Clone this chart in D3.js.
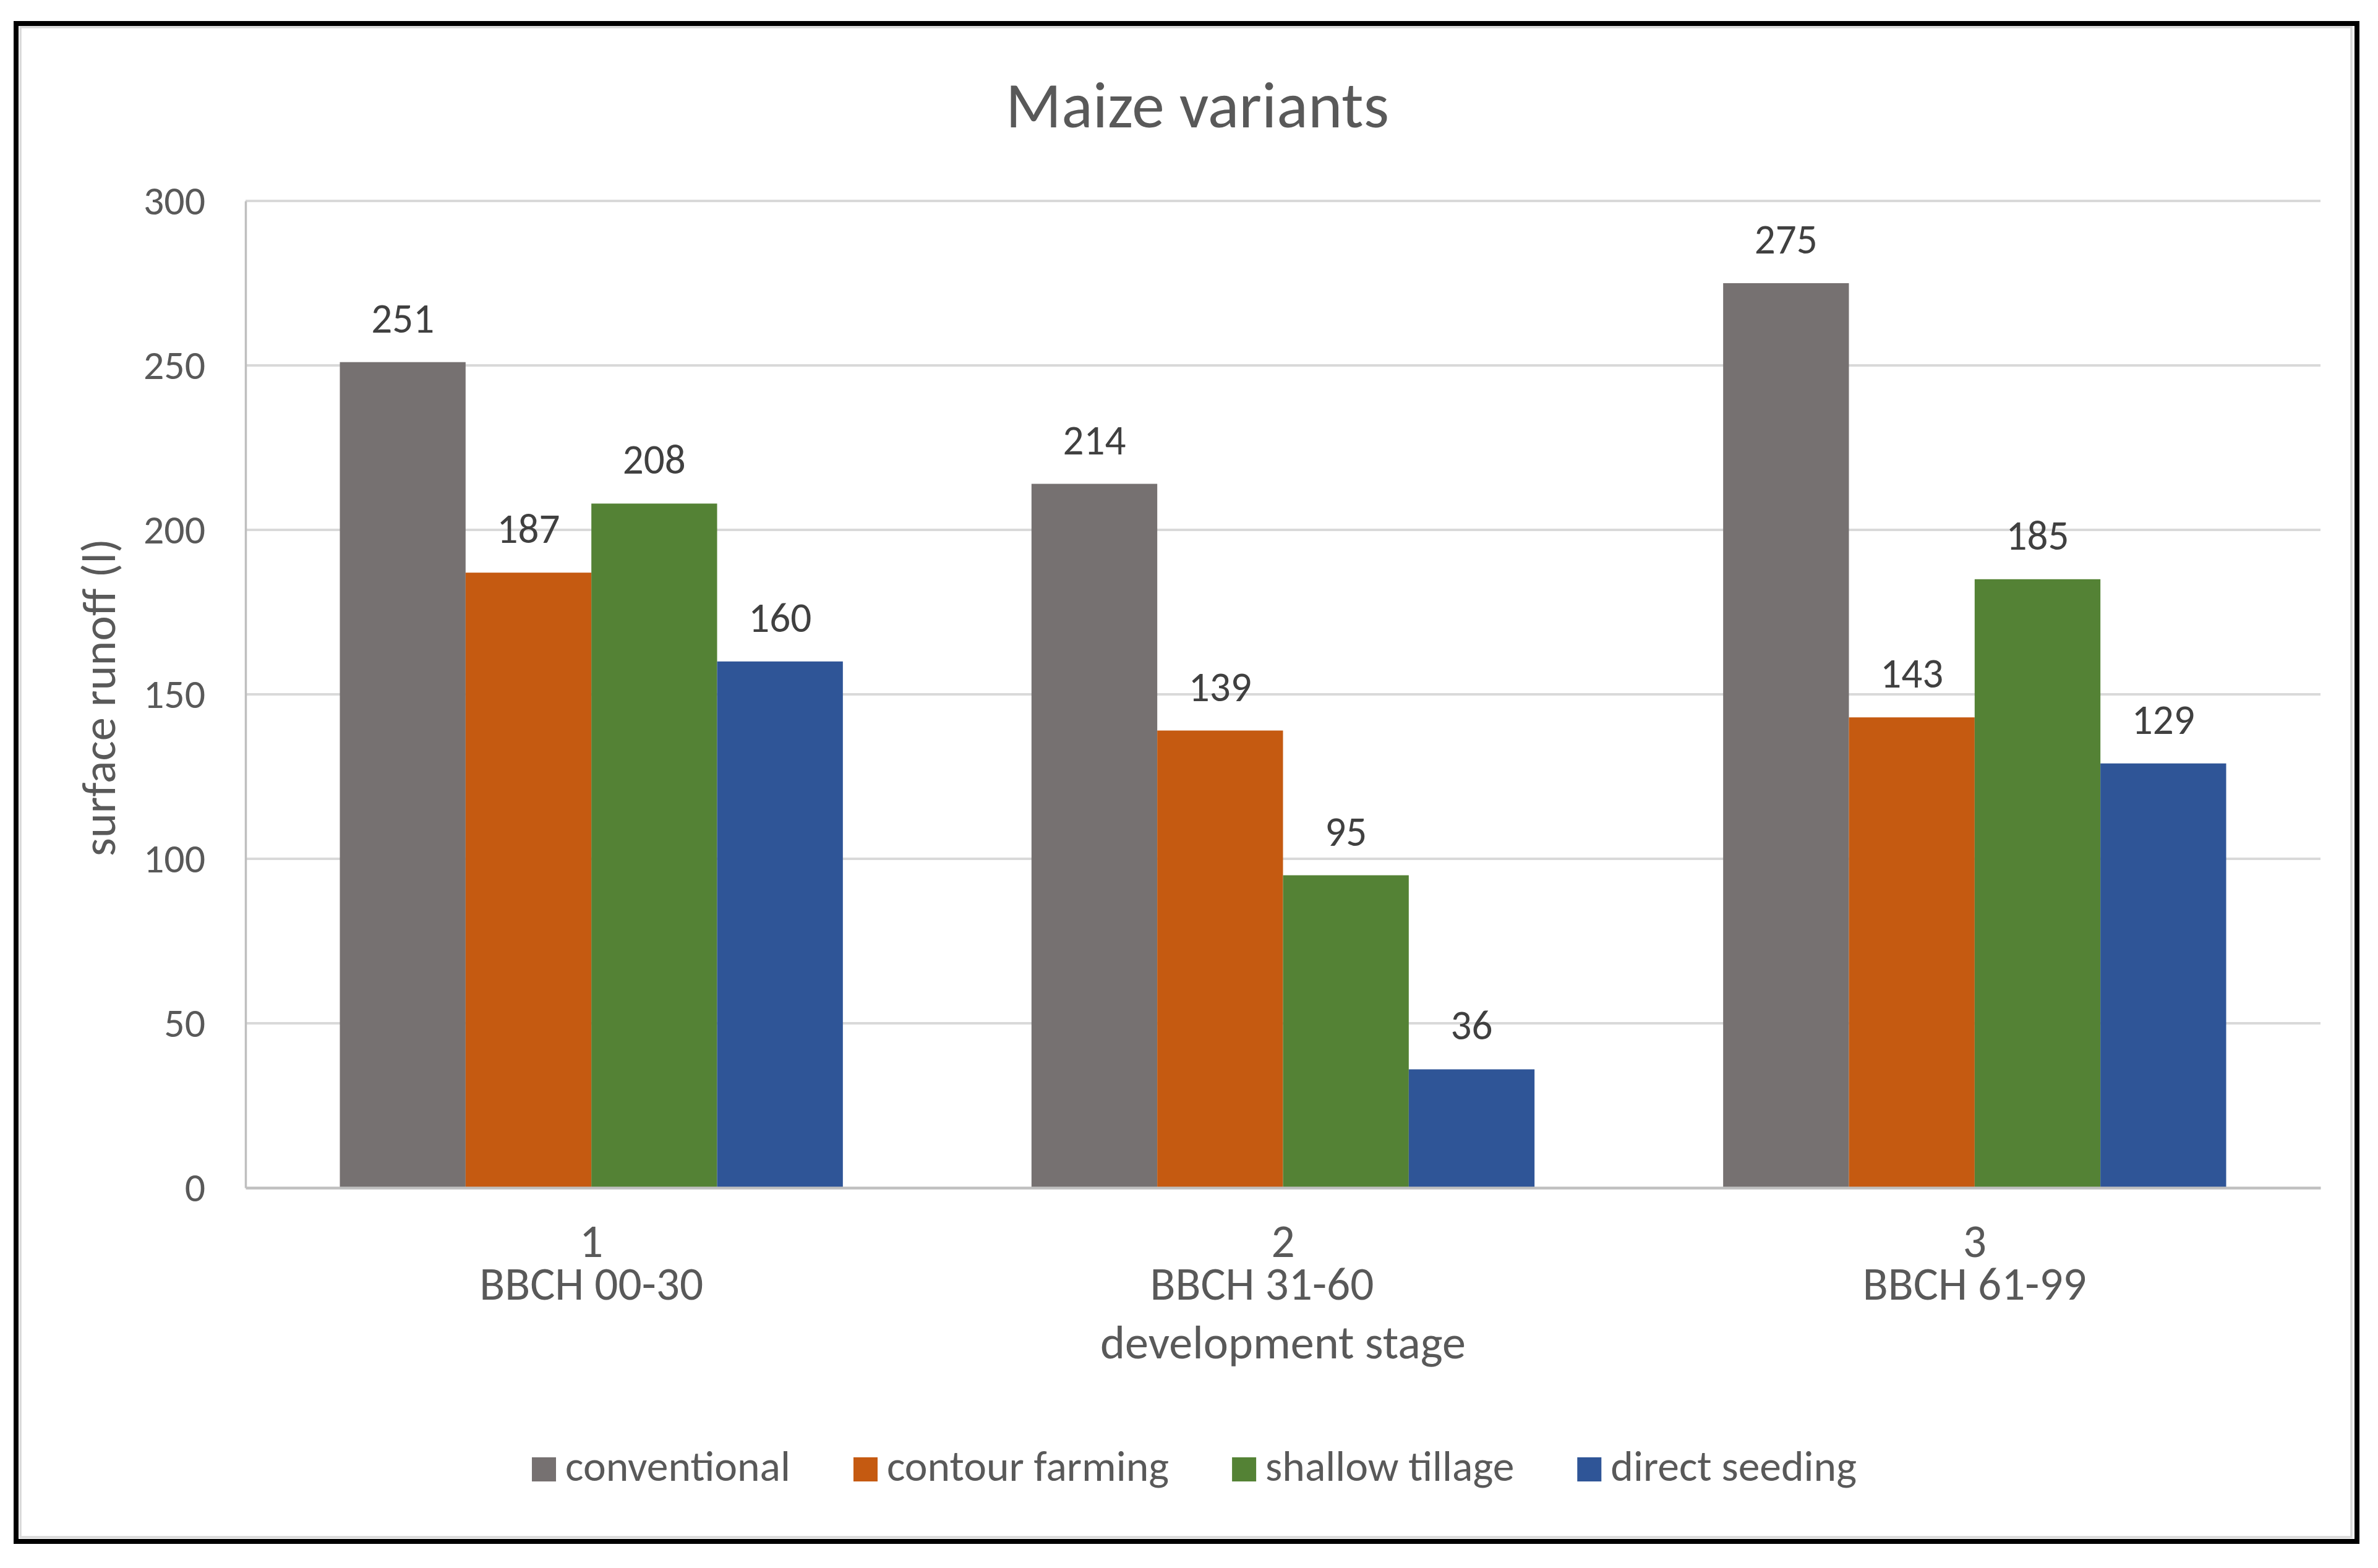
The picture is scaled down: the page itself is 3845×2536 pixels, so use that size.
<!DOCTYPE html>
<html>
<head>
<meta charset="utf-8">
<script src="https://cdn.jsdelivr.net/npm/d3@7/dist/d3.min.js"></script>
<style>
  html, body { margin: 0; padding: 0; background: #ffffff; }
  svg { display: block; }
  text { font-family: Carlito, Calibri, Lato, "Liberation Sans", sans-serif; white-space: pre; }
</style>
</head>
<body>
<svg id="chart" width="3845" height="2536"></svg>
<script>
// ---- data ----
const chartTitle = "Maize variants";
const categories = ["1", "2", "3"];
const categorySubLabels = ["BBCH 00-30", "BBCH 31-60    ", "BBCH 61-99"];
const seriesNames = ["conventional", "contour farming", "shallow tillage", "direct seeding"];
const conventional   = [251, 214, 275];
const contourFarming = [187, 139, 143];
const shallowTillage = [208, 95, 185];
const directSeeding  = [160, 36, 129];
const yTicks = [0, 50, 100, 150, 200, 250, 300];
const yTitle = "surface runoff (l)";
const xTitle = "development stage";
const seriesColors = ["#767171", "#C55A11", "#548235", "#2F5597"];

const seriesValues = [conventional, contourFarming, shallowTillage, directSeeding];

// ---- layout ----
const W = 3845, H = 2536;
const plot = { left: 397, right: 3752, top: 325, bottom: 1921 };
const svg = d3.select("#chart");
svg.append("rect").attr("width", W).attr("height", H).attr("fill", "#fff");

// font fitting helper: find font size such that refText has target width
function fitSize(refText, targetWidth) {
  const t = svg.append("text").attr("font-size", 100).text(refText);
  const w = t.node().getComputedTextLength();
  t.remove();
  return 100 * targetWidth / w;
}
const fsTitle = fitSize("Maize variants", 620);
const fsAxisTitle = fitSize("development stage", 591);
const fsCat = fitSize("BBCH 00-30", 362);
const fsLegend = fitSize("conventional", 364);
const fsTick = fitSize("200", 100);
const fsData = fitSize("214", 102);

// chart borders
svg.append("rect").attr("x", 26).attr("y", 38).attr("width", 3811 - 26).attr("height", 2493 - 38)
  .attr("fill", "none").attr("stroke", "#000").attr("stroke-width", 8);
svg.append("rect").attr("x", 33).attr("y", 44).attr("width", 3802 - 33).attr("height", 2486 - 44)
  .attr("fill", "none").attr("stroke", "#D9D9D9").attr("stroke-width", 3.5);

// scales
const y = d3.scaleLinear().domain([0, 300]).range([plot.bottom, plot.top]);
const x0 = d3.scaleBand().domain(categories).range([plot.left, plot.right]).padding(0);
const x1 = d3.scaleBand().domain(seriesNames).range([0, x0.bandwidth()]).paddingInner(0).paddingOuter(0.75);

// gridlines
svg.append("g").selectAll("line").data(yTicks.filter(d => d > 0)).join("line")
  .attr("x1", plot.left).attr("x2", plot.right)
  .attr("y1", d => y(d)).attr("y2", d => y(d))
  .attr("stroke", "#D9D9D9").attr("stroke-width", 4);

// y axis (labels + line)
const yAxis = d3.axisLeft(y).tickValues(yTicks).tickSize(0).tickPadding(0);
const gy = svg.append("g").attr("transform", `translate(${plot.left},0)`).call(yAxis);
gy.select(".domain").attr("stroke", "#BFBFBF").attr("stroke-width", 3.5);
gy.selectAll(".tick text")
  .attr("x", 332 - plot.left).attr("dy", "0.33em")
  .attr("font-size", fsTick).attr("fill", "#595959")
  .attr("font-family", null);

// bars
const groups = svg.append("g").selectAll("g").data(categories).join("g")
  .attr("transform", d => `translate(${x0(d)},0)`);
groups.selectAll("rect").data((c, ci) => seriesNames.map((s, si) => ({ s, si, v: seriesValues[si][ci] })))
  .join("rect")
  .attr("x", d => x1(d.s)).attr("width", x1.bandwidth())
  .attr("y", d => y(d.v)).attr("height", d => y(0) - y(d.v))
  .attr("fill", d => seriesColors[d.si]);
groups.selectAll("text.dl").data((c, ci) => seriesNames.map((s, si) => ({ s, si, v: seriesValues[si][ci] })))
  .join("text").attr("class", "dl")
  .attr("x", d => x1(d.s) + x1.bandwidth() / 2)
  .attr("y", d => y(d.v) - 48)
  .attr("text-anchor", "middle").attr("font-size", fsData).attr("fill", "#404040")
  .text(d => d.v);

// x axis line
const xAxis = d3.axisBottom(x0).tickSize(0).tickFormat("");
const gx = svg.append("g").attr("transform", `translate(0,${plot.bottom})`).call(xAxis);
gx.select(".domain").attr("stroke", "#BFBFBF").attr("stroke-width", 4.5);

// category labels (two lines in one text element)
const catG = svg.append("g");
const catText = catG.selectAll("text.cat").data(categories).join("text").attr("class", "cat")
  .attr("text-anchor", "middle").attr("font-size", fsCat).attr("fill", "#595959");
catText.append("tspan")
  .attr("x", d => x0(d) + x0.bandwidth() / 2).attr("y", 2033)
  .text(d => d);
catText.append("tspan")
  .attr("x", d => x0(d) + x0.bandwidth() / 2).attr("y", 2102)
  .text((d, i) => categorySubLabels[i]);

// axis titles
svg.append("text").attr("x", (plot.left + plot.right) / 2).attr("y", 2197)
  .attr("text-anchor", "middle").attr("font-size", fsAxisTitle).attr("fill", "#595959")
  .text(xTitle);
svg.append("text").attr("transform", `translate(186,${(plot.top + plot.bottom) / 2 + 5}) rotate(-90)`)
  .attr("text-anchor", "middle").attr("font-size", fsAxisTitle).attr("fill", "#595959")
  .text(yTitle);

// title
svg.append("text").attr("x", 1936).attr("y", 206)
  .attr("text-anchor", "middle").attr("font-size", fsTitle).attr("fill", "#595959")
  .text(chartTitle);

// legend
const sq = 39, sqGap = 15, itemGap = 102;
const lg = svg.append("g");
const items = lg.selectAll("g").data(seriesNames).join("g");
items.append("rect").attr("width", sq).attr("height", sq).attr("y", 2357)
  .attr("fill", (d, i) => seriesColors[i]);
items.append("text").attr("x", sq + sqGap).attr("y", 2395)
  .attr("font-size", fsLegend).attr("fill", "#595959").text(d => d);
let widths = [];
items.each(function () { widths.push(d3.select(this).select("text").node().getComputedTextLength()); });
const total = d3.sum(widths.map(w => sq + sqGap + w)) + itemGap * (widths.length - 1);
let cx = 1931 - total / 2;
items.each(function (d, i) {
  d3.select(this).attr("transform", `translate(${cx},0)`);
  cx += sq + sqGap + widths[i] + itemGap;
});
</script>
</body>
</html>
